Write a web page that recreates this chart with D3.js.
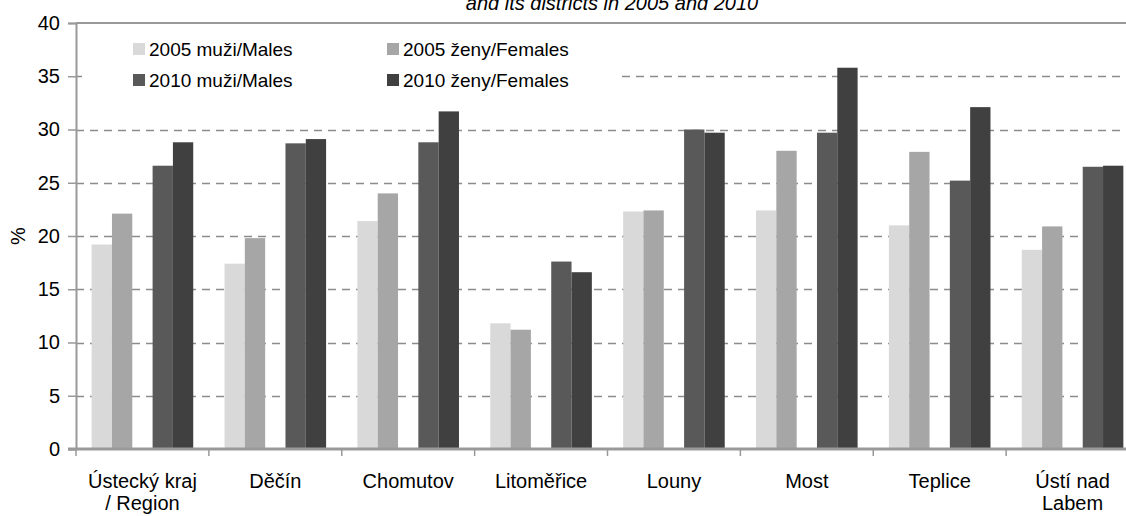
<!DOCTYPE html>
<html>
<head>
<meta charset="utf-8">
<script src="https://cdn.jsdelivr.net/npm/d3@7"></script>
<style>
  body { margin: 0; background: #fff; }
  text { font-family: Arial, "Liberation Sans", sans-serif; fill: #000; }
</style>
</head>
<body>
<div id="chart"></div>
<script>
//data
var categories = ['Ústecký kraj\n/ Region', 'Děčín', 'Chomutov', 'Litoměřice', 'Louny', 'Most', 'Teplice', 'Ústí nad\nLabem'];
var seriesNames = ['2005 muži/Males', '2005 ženy/Females', '2010 muži/Males', '2010 ženy/Females'];
var males2005 = [19.2, 17.4, 21.4, 11.8, 22.3, 22.4, 21.0, 18.7];
var females2005 = [22.1, 19.8, 24.0, 11.2, 22.4, 28.0, 27.9, 20.9];
var males2010 = [26.6, 28.7, 28.8, 17.6, 30.0, 29.7, 25.2, 26.5];
var females2010 = [28.8, 29.1, 31.7, 16.6, 29.7, 35.8, 32.1, 26.6];
var yTicks = [0, 5, 10, 15, 20, 25, 30, 35, 40];

var series = [males2005, females2005, males2010, females2010];
var colors = ['#d9d9d9', '#a6a6a6', '#595959', '#404040'];
//slot position inside a group (slot 2 is left empty)
var slots = [0, 1, 3, 4];

//setting dimensions and margins
var width = 1126, height = 516;
var margin = {top: 23, left: 76, bottom: 449};
var plotRight = 1139;

var svg = d3.select('#chart')
  .append('svg')
  .attr('width', width)
  .attr('height', height);

//scales
var x = d3.scaleBand()
  .domain(categories)
  .range([margin.left, plotRight])
  .paddingInner(0)
  .paddingOuter(0);

var xSub = d3.scaleBand()
  .domain(d3.range(5))
  .range([0, x.bandwidth()])
  .paddingOuter(0.77)
  .paddingInner(0);

var y = d3.scaleLinear()
  .domain([0, 40])
  .range([margin.bottom, margin.top]);

//title (cut off at the top, as in the original)
svg.append('text')
  .attr('x', 612)
  .attr('y', 10)
  .attr('text-anchor', 'middle')
  .style('font-size', '20px')
  .style('font-style', 'italic')
  .text('and its districts in 2005 and 2010');

//gridlines
svg.append('g')
  .selectAll('line')
  .data(yTicks.filter(function(d) { return d > 0 && d < 40; }))
  .enter()
  .append('line')
  .attr('x1', margin.left)
  .attr('x2', width)
  .attr('y1', function(d) { return Math.round(y(d)) + 0.5; })
  .attr('y2', function(d) { return Math.round(y(d)) + 0.5; })
  .style('stroke', '#8c8c8c')
  .style('stroke-width', 1.5)
  .style('stroke-dasharray', '8,6');

//top border
svg.append('line')
  .attr('x1', margin.left)
  .attr('x2', width)
  .attr('y1', y(40))
  .attr('y2', y(40))
  .style('stroke', '#999')
  .style('stroke-width', 2);

//legend background hides gridlines
svg.append('rect')
  .attr('x', 82)
  .attr('y', 30)
  .attr('width', 537)
  .attr('height', 68)
  .style('fill', '#fff');

//bars
series.forEach(function(values, i) {
  svg.append('g')
    .selectAll('rect')
    .data(values)
    .enter()
    .append('rect')
    .attr('x', function(d, j) { return x(categories[j]) + xSub(slots[i]); })
    .attr('width', xSub.bandwidth())
    .attr('y', function(d) { return y(d); })
    .attr('height', function(d) { return y(0) - y(d); })
    .style('fill', colors[i]);
});

//y axis
var yAxis = svg.append('g')
  .attr('transform', 'translate(' + margin.left + ',0)')
  .call(d3.axisLeft(y).tickValues(yTicks).tickSize(8).tickPadding(8));
yAxis.select('.domain').style('stroke', '#999').style('stroke-width', 2);
yAxis.selectAll('.tick line').style('stroke', '#999').style('stroke-width', 1.5);
yAxis.selectAll('.tick text')
  .style('font-size', '20px')
  .style('font-family', 'Arial, "Liberation Sans", sans-serif');

//x axis line
svg.append('line')
  .attr('x1', 68)
  .attr('x2', width)
  .attr('y1', y(0))
  .attr('y2', y(0))
  .style('stroke', '#999')
  .style('stroke-width', 3);

//x ticks at group boundaries
svg.append('g')
  .selectAll('line')
  .data(categories)
  .enter()
  .append('line')
  .attr('x1', function(d) { return x(d); })
  .attr('x2', function(d) { return x(d); })
  .attr('y1', y(0))
  .attr('y2', y(0) + 7)
  .style('stroke', '#999')
  .style('stroke-width', 1.5);

//x labels
svg.append('g')
  .selectAll('text')
  .data(categories)
  .enter()
  .append('text')
  .attr('text-anchor', 'middle')
  .style('font-size', '20px')
  .attr('transform', function(d) { return 'translate(' + (x(d) + x.bandwidth() / 2) + ',488)'; })
  .each(function(d) {
    var t = d3.select(this);
    d.split('\n').forEach(function(line, k) {
      t.append('tspan').attr('x', 0).attr('dy', k === 0 ? 0 : 22).text(line);
    });
  });

//y label
svg.append('text')
  .attr('transform', 'translate(25,236) rotate(-90)')
  .attr('text-anchor', 'middle')
  .style('font-size', '20px')
  .text('%');

//legend
var legendPos = [[133, 49], [387, 49], [133, 80], [387, 80]];
var legend = svg.append('g')
  .selectAll('g')
  .data(seriesNames)
  .enter()
  .append('g')
  .attr('transform', function(d, i) { return 'translate(' + legendPos[i][0] + ',' + legendPos[i][1] + ')'; });

legend.append('rect')
  .attr('x', 0)
  .attr('y', -6)
  .attr('width', 12)
  .attr('height', 12)
  .style('fill', function(d, i) { return colors[i]; });

legend.append('text')
  .attr('x', 16)
  .attr('y', 7)
  .style('font-size', '19px')
  .text(function(d) { return d; });
</script>
</body>
</html>
